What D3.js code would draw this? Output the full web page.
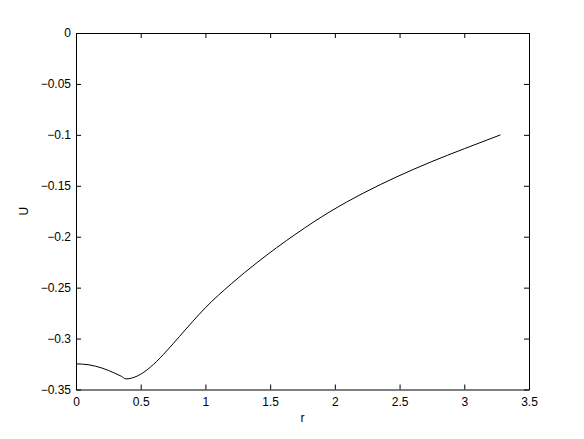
<!DOCTYPE html>
<html>
<head>
<meta charset="utf-8">
<script src="https://cdn.jsdelivr.net/npm/d3@7"></script>
<style>
  body { margin: 0; background: #fff; }
  text { font-family: "Liberation Sans", Helvetica, Arial, sans-serif; font-size: 12px; fill: #000; }
</style>
</head>
<body>
<svg id="svg"></svg>
<script>
// values
var rValues = [0, 0.1, 0.2, 0.3, 0.35, 0.386, 0.45, 0.5, 0.6, 0.7, 0.8, 0.9,
	1.0, 1.2, 1.4, 1.7, 1.96, 2.22, 2.48, 2.74, 3.0, 3.28];
var uValues = [-0.3248, -0.3258, -0.3289, -0.3340, -0.3370, -0.3396, -0.3380, -0.3350, -0.3252, -0.3122, -0.2979, -0.2834,
	-0.2697, -0.2462, -0.2253, -0.1972, -0.1756, -0.1572, -0.1411, -0.1267, -0.1136, -0.1000];
var xTicks = [0, 0.5, 1, 1.5, 2, 2.5, 3, 3.5];
var yTicks = [0, -0.05, -0.1, -0.15, -0.2, -0.25, -0.3, -0.35];

var width = 584,
	height = 439,
	plotLeft = 76,
	plotRight = 529,
	plotTop = 33,
	plotBottom = 389.5,
	tickLen = 5;

var svg = d3.select("#svg")
	.attr("width", width)
	.attr("height", height);

svg.append("rect")
	.attr("width", width)
	.attr("height", height)
	.attr("fill", "#fff");

var x = d3.scaleLinear().domain([0, 3.5]).range([plotLeft, plotRight]);
var y = d3.scaleLinear().domain([-0.35, 0]).range([plotBottom, plotTop]);

function fmt(v){
	return v == 0 ? "0" : d3.format("")(v).replace("-", "\u2212");
}

// bottom and left axes with labels, ticks pointing in
var xAxis = d3.axisBottom(x).tickValues(xTicks).tickSizeInner(-tickLen).tickSizeOuter(0).tickPadding(8).tickFormat(fmt);
var yAxis = d3.axisLeft(y).tickValues(yTicks).tickSizeInner(-tickLen).tickSizeOuter(0).tickPadding(5).tickFormat(fmt);

var gx = svg.append("g").attr("transform", "translate(0," + plotBottom + ")").call(xAxis);
var gy = svg.append("g").attr("transform", "translate(" + plotLeft + ",0)").call(yAxis);

// mirrored ticks on top and right
var gxTop = svg.append("g").attr("transform", "translate(0," + plotTop + ")")
	.call(d3.axisTop(x).tickValues(xTicks).tickSizeInner(-tickLen).tickSizeOuter(0).tickFormat(""));
var gyRight = svg.append("g").attr("transform", "translate(" + plotRight + ",0)")
	.call(d3.axisRight(y).tickValues(yTicks).tickSizeInner(-tickLen).tickSizeOuter(0).tickFormat(""));

[gx, gy, gxTop, gyRight].forEach(function(g){
	g.select(".domain").attr("stroke", "#000").attr("stroke-width", 1);
	g.selectAll(".tick line").attr("stroke", "#000");
	g.selectAll("text").attr("fill", "#000");
});

// the curve
var points = rValues.map(function(r, i){ return {r: r, u: uValues[i]}; });

var line = d3.line()
	.x(function(d){ return x(d.r); })
	.y(function(d){ return y(d.u); })
	.curve(d3.curveMonotoneX);

svg.append("path")
	.datum(points)
	.attr("fill", "none")
	.attr("stroke", "#000")
	.attr("stroke-width", 1)
	.attr("d", line);

// axis titles
svg.append("text")
	.attr("x", (plotLeft + plotRight) / 2)
	.attr("y", 422)
	.attr("text-anchor", "middle")
	.text("r");

svg.append("text")
	.attr("transform", "translate(28," + ((plotTop + plotBottom) / 2) + ") rotate(-90)")
	.attr("text-anchor", "middle")
	.text("U");
</script>
</body>
</html>
